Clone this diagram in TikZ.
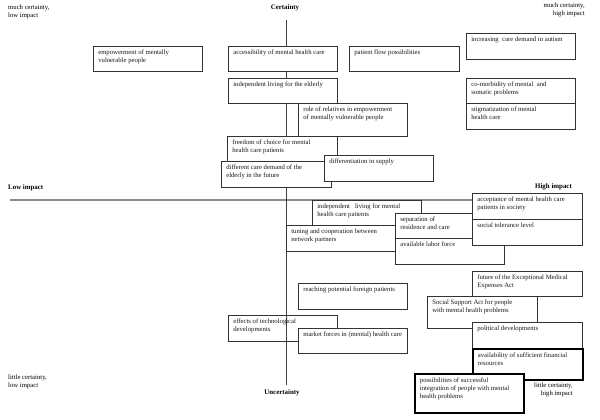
\documentclass[tikz,border=0pt]{standalone}
\usepackage{fontspec}
\setmainfont{Liberation Serif}
\newcommand\cardtext[3]{\parbox[t][#2][t]{#1}{\raggedright\rule{0pt}{8.3pt}#3}}
\tikzset{
  card/.style={draw=black!80, line width=0.6pt, fill=white, inner xsep=5pt, inner ysep=0pt,
    anchor=north west, font=\fontsize{6.7}{8.2}\selectfont, text=black!90},
  heavycard/.style={card, draw=black, line width=1.8pt},
  opencard/.style={card, fill=none},
  axislabel/.style={font=\fontsize{6.9}{8.2}\selectfont\bfseries, inner sep=0pt},
  cornerlabel/.style={font=\fontsize{6.7}{7.8}\selectfont, inner sep=0pt},
  vaxis/.style={draw=black!75, line width=0.7pt},
  haxis/.style={draw=black!45, line width=1.5pt}
}
\begin{document}
\begin{tikzpicture}[x=1pt,y=-1pt]
\useasboundingbox (0,0) rectangle (600,420);
% axes
\coordinate (ctop) at (286,20);
\coordinate (cbot) at (286,385);
\coordinate (ilft) at (10,200);
\coordinate (irgt) at (560,200);
\draw[haxis] (ilft) -- (irgt);
\draw[vaxis] (ctop) -- (cbot);
% axis labels
\node[axislabel] (lcert) at (285,8) {Certainty};
\node[axislabel] (lunc) at (282,393) {Uncertainty};
\node[axislabel, anchor=west] (llow) at (8,188) {Low impact};
\node[axislabel, anchor=west] (lhigh) at (535,187) {High impact};
% corner labels
\node[cornerlabel, anchor=north west, align=left] (ctl) at (8,5) {much certainty,\\low impact};
\node[cornerlabel, anchor=north east, align=right] (ctr) at (585,3) {much certainty,\\high impact};
\node[cornerlabel, anchor=north west, align=left] (cbl) at (8,375) {little certainty,\\low impact};
\node[cornerlabel, anchor=north east, align=right] (cbr) at (573,383) {little certainty,\\high impact};
% upper boxes
\node[card] (n1) at (93,46) {\cardtext{99pt}{25pt}{empowerment of mentally\\vulnerable people}};
\node[card] (n2) at (228,46) {\cardtext{99pt}{25pt}{accessibility of mental health care}};
\node[card] (n3) at (349,46) {\cardtext{100pt}{25pt}{patient flow possibilities}};
\node[card] (n4) at (466,33) {\cardtext{99pt}{26pt}{increasing\ \ care demand in autism}};
\node[card] (n5) at (228,78) {\cardtext{99pt}{25pt}{independent living for the elderly}};
\node[card] (n6) at (466,78) {\cardtext{99pt}{25pt}{co-morbidity of mental\ \ and\\somatic problems}};
\node[card] (n7) at (466,103) {\cardtext{99pt}{26pt}{stigmatization of mental\\health care}};
\node[card] (n8) at (298,103) {\cardtext{99pt}{33pt}{role of relatives in empowerment\\of mentally vulnerable people}};
\node[card] (n9) at (227,136) {\cardtext{100pt}{26pt}{freedom of choice for mental\\health care patients}};
\node[card] (n10) at (221,161) {\cardtext{100pt}{26pt}{different care demand of the\\elderly in the future}};
\node[card] (n11) at (324,155) {\cardtext{99pt}{26pt}{differentiation in supply}};
% middle boxes
\node[card] (n12) at (312,200) {\cardtext{99pt}{25pt}{independent\ \ \ living for mental\\health care patients}};
\node[card] (n13) at (286,225) {\cardtext{100pt}{26pt}{tuning and cooperation between\\network partners}};
\node[card] (n14) at (395,213) {\cardtext{99pt}{25pt}{separation of\\residence and care}};
\node[card] (n15) at (395,238) {\cardtext{99pt}{26pt}{available labor force}};
\node[card] (n16) at (472,193) {\cardtext{100pt}{26pt}{acceptance of mental health care\\patients in society}};
\node[card] (n17) at (472,219) {\cardtext{100pt}{26pt}{social tolerance level}};
% lower boxes
\node[card] (n18) at (472,271) {\cardtext{100pt}{25pt}{future of the Exceptional Medical\\Expenses Act}};
\node[card] (n19) at (427,296) {\cardtext{100pt}{32pt}{Social Support Act for people\\with mental health problems}};
\node[card] (n20) at (472,322) {\cardtext{100pt}{26pt}{political developments}};
\node[heavycard] (n21) at (472,348) {\cardtext{100pt}{31pt}{availability of sufficient financial\\resources}};
\node[heavycard] (n22) at (414,373) {\cardtext{99pt}{39pt}{possibilities of successful\\integration of people with mental\\health problems}};
\node[card] (n23) at (298,283) {\cardtext{99pt}{26pt}{reaching potential foreign patients}};
\node[opencard] (n24) at (228,315) {\cardtext{99pt}{26pt}{effects of technological\\developments}};
\node[card] (n25) at (298,328) {\cardtext{99pt}{25pt}{market forces in (mental) health care}};
\end{tikzpicture}
\end{document}
